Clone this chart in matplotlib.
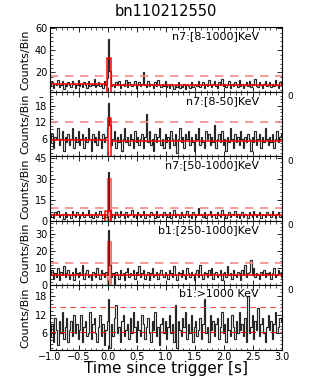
import numpy as np
import matplotlib
matplotlib.use("Agg")
import matplotlib.pyplot as plt
from matplotlib.ticker import AutoMinorLocator

title = "bn110212550"
xlabel = "Time since trigger [s]"
t_start, t_stop, bin_width = -1.0, 3.0, 0.025

labels = ["n7:[8-1000]KeV", "n7:[8-50]KeV", "n7:[50-1000]KeV",
          "b1:[250-1000]KeV", "b1:>1000 KeV"]

counts_n7_all = [8,11,6,10,9,13,7,9,12,5,10,8,11,9,7,12,10,6,9,13,8,10,7,11,9,6,12,8,10,9,14,7,9,11,8,10,6,12,9,15,
                 50,21,
                 8,10,7,11,9,12,6,9,10,8,13,7,11,9,8,10,12,6,9,11,8,10,20,9,7,12,8,10,9,6,11,8,13,9,7,10,8,12,
                 7,9,6,10,8,5,9,7,11,6,8,7,10,5,9,8,6,11,7,9,10,8,12,7,9,11,6,10,8,13,
                 9,7,10,12,8,6,11,9,14,8,10,7,9,12,6,10,8,11,9,7,13,8,10,6,9,11,8,12,7,10,
                 9,14,8,7,11,9,6,10,12,8,9,11,7,10,8,13,9,6,11,10]
counts_n7_low = [5,8,3,7,6,10,4,6,9,2,7,5,8,4,6,10,3,7,5,9,4,6,8,3,7,5,10,6,2,8,5,7,4,9,6,3,8,5,7,10,
                 19,11,
                 4,6,9,3,7,5,8,2,6,10,5,7,4,8,6,3,9,5,7,4,6,8,3,7,15,5,9,4,6,2,8,5,7,10,4,6,3,8,
                 5,7,3,9,6,4,8,1,6,10,5,7,3,8,6,9,4,7,5,2,8,6,10,4,7,5,3,9,6,8,
                 4,7,5,11,3,6,8,5,9,4,6,2,7,5,10,6,3,8,5,7,4,9,6,3,7,5,8,6,2,7,
                 5,9,4,6,8,3,7,5,10,6,4,7,5,8,3,6,9,5,7,8]
counts_n7_high = [3,5,2,6,4,7,3,4,5,1,6,3,5,4,2,7,4,3,6,5,2,4,6,3,5,4,8,3,5,2,4,6,3,5,7,4,2,5,3,6,
                  35,8,
                  3,5,2,6,4,3,7,4,5,2,6,3,4,5,8,3,4,2,6,5,3,4,7,2,5,4,3,6,4,5,2,7,3,4,5,3,6,4,
                  5,3,6,2,4,8,3,5,4,2,6,4,3,5,7,3,4,2,6,5,3,4,9,4,5,3,6,2,4,5,
                  7,3,4,5,2,6,4,3,8,4,5,2,4,6,3,5,4,7,3,5,2,4,6,3,5,4,2,6,4,3,
                  7,5,3,4,6,2,5,4,3,6,4,5,3,7,4,2,5,6,3,4]
counts_b1_mid = [6,9,4,7,5,10,3,8,6,11,5,7,9,4,6,8,3,10,7,5,8,6,12,4,7,9,5,6,3,8,7,5,10,6,4,9,7,5,8,6,
                 32,12,
                 5,7,1,8,6,4,9,6,7,3,8,10,5,7,6,9,4,8,6,11,5,7,9,4,6,8,3,7,10,5,6,8,4,7,9,6,5,8,
                 6,4,9,7,5,11,6,3,8,7,5,9,6,4,10,7,5,8,6,3,7,9,5,12,6,4,8,7,5,9,
                 6,10,4,7,8,5,6,9,3,7,8,5,11,6,7,4,9,6,5,8,7,3,9,6,12,5,7,8,15,6,
                 10,5,7,6,4,8,6,9,5,7,6,8,4,7,10,5,6,9,7,5]
counts_b1_high = [5,9,3,11,7,2,10,6,13,4,8,11,3,7,10,5,12,6,9,4,7,12,3,8,10,5,6,13,4,9,11,6,3,8,12,5,9,2,7,10,
                  17,1,9,5,11,15,6,8,3,10,12,5,7,9,4,11,6,13,8,3,10,7,5,12,9,4,8,11,6,3,10,7,13,5,8,2,9,11,6,10,
                  4,8,12,6,9,3,15,1,10,7,5,11,8,13,4,9,6,12,3,8,10,5,7,11,4,9,17,6,8,3,12,7,10,5,9,11,4,8,13,6,
                  9,3,11,7,5,12,8,4,10,6,13,7,9,5,11,3,18,6,8,12,4,10,7,14,5,9,11,6,3,8,12,7,10,4,9,13,6,8,11,10]
series = [counts_n7_all, counts_n7_low, counts_n7_high, counts_b1_mid, counts_b1_high]

# background levels before / after the burst (None = not drawn)
bkg_pre = [9.3, 5.8, 4.2, 6.0, None]
bkg_post = [8.8, 5.3, 4.0, 6.0, None]
bkg_dash = [None, None, None, None, 6.5]
threshold = [17, 12, 9, 13, 14.5]
# burst boxes: (start, stop, height)
box_outline = [(-0.025, 0.05, 33), (0.0, 0.05, 13.5), (-0.05, 0.05, 7), None, None]
box_filled = [None, None, (-0.01, 0.05, 31), (-0.01, 0.05, 26), None]

ylims = [(2.7, 61), (0, 23), (0, 46.5), (0, 37.5), (0.5, 21.5)]
yticks = [[20, 40, 60], [6, 12, 18], [0, 15, 30, 45], [0, 10, 20, 30], [6, 12, 18]]
xticks = [-1.0, -0.5, 0.0, 0.5, 1.0, 1.5, 2.0, 2.5, 3.0]

W, H = 332, 388
fig = plt.figure(figsize=(W / 100, H / 100), dpi=100)
left, right, top, bottom = 50 / W, 282 / W, 1 - 27 / H, 1 - 350 / H
axes = fig.subplots(5, 1, sharex=True)
fig.subplots_adjust(left=left, right=right, top=top, bottom=bottom, hspace=0)

edges = np.arange(len(counts_n7_all) + 1) * bin_width + t_start
cond = dict(family=["Liberation Sans Narrow", "DejaVu Sans"], fontsize=8)

for i, ax in enumerate(axes):
    ax.stairs(series[i], edges, color="k", lw=0.85, alpha=0.85, baseline=None)
    if bkg_pre[i] is not None:
        ax.hlines(bkg_pre[i], t_start, -0.025, color="red", lw=1.1)
        ax.hlines(bkg_post[i], 0.05, t_stop, color="red", lw=1.1)
    if bkg_dash[i] is not None:
        ax.axhline(bkg_dash[i], color="red", lw=0.8, ls=(0, (5, 4)))
    if i == 4:
        ax.axhline(threshold[i], color="#ff4444", lw=0.8, ls=(0, (5, 4)))
    else:
        ax.axhline(threshold[i], color="#f48a8a", lw=1.2, ls=(0, (5, 4)))
    if box_outline[i] is not None:
        s, e, h = box_outline[i]
        ax.plot([s, s, e, e], [ylims[i][0], h, h, ylims[i][0]], color="red", lw=1.1)
    if box_filled[i] is not None:
        s, e, h = box_filled[i]
        ax.fill_between([s, e], ylims[i][0], h, color="red", alpha=0.45, lw=0.8)
    ax.set_xlim(t_start, t_stop)
    ax.set_ylim(*ylims[i])
    ax.set_yticks(yticks[i])
    ax.set_xticks(xticks)
    ax.xaxis.set_minor_locator(AutoMinorLocator(5))
    ax.yaxis.set_minor_locator(AutoMinorLocator(5))
    ax.tick_params(which="both", direction="in", top=True, right=True, labelsize=7, pad=2)
    ax.tick_params(which="major", length=3.5, width=0.6)
    ax.tick_params(which="minor", length=1.8, width=0.5)
    for sp in ax.spines.values():
        sp.set_linewidth(0.8)
    ax.set_ylabel("Counts/Bin", **cond)
    ax.yaxis.set_label_coords(-0.085, 0.5)
    ax.text(0.9, 0.86, labels[i], transform=ax.transAxes, ha="right", va="center", fontsize=8)
    if i > 0:
        ax.text(1.025, 0.92, "0", transform=ax.transAxes, ha="left", va="center", fontsize=6.5)

axes[1].text(-0.03, 0.92, "\u2013", transform=axes[1].transAxes, ha="right", va="center", fontsize=7)
axes[-1].set_xticklabels(["\u22121.0", "\u22120.5", "0.0", "0.5", "1.0", "1.5", "2.0", "2.5", "3.0"])
axes[-1].tick_params(axis="x", pad=1.5)
axes[-1].set_xlabel(xlabel, fontsize=11, labelpad=-1)
fig.text(0.5, 1 - 12 / H, title, ha="center", va="center", fontsize=10.5)

fig.savefig("out.png", dpi=100)
